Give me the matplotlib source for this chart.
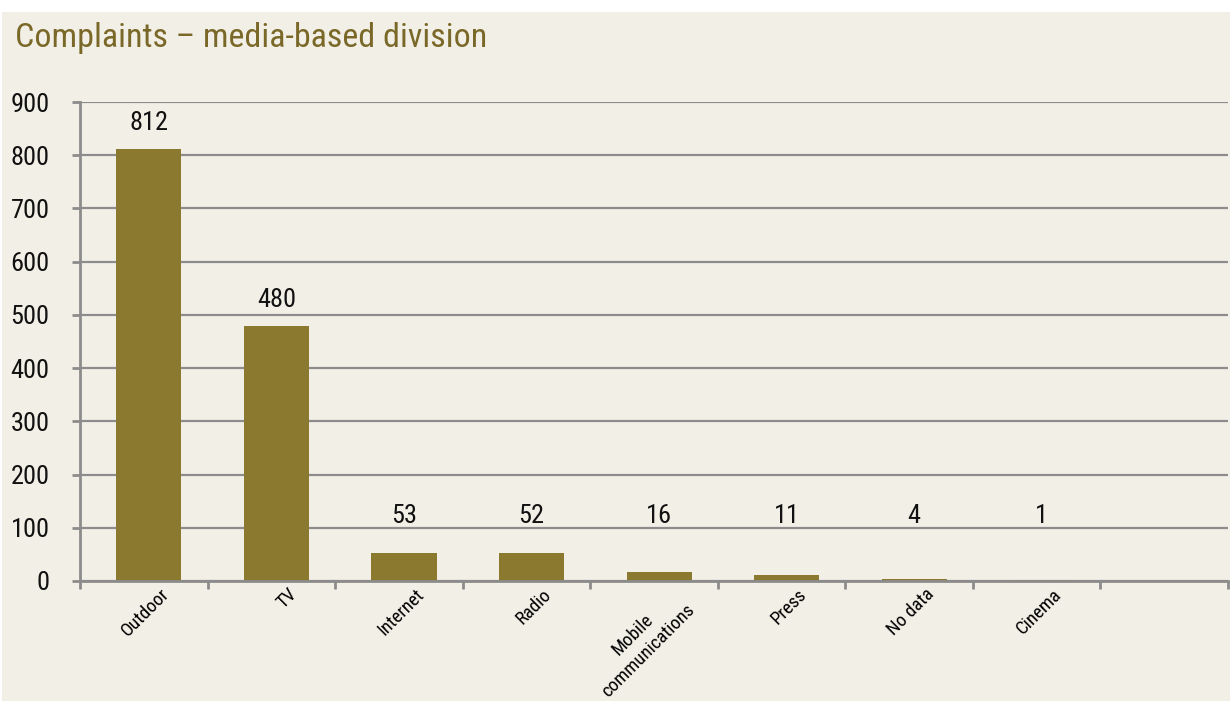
import matplotlib.pyplot as plt
import matplotlib.transforms as mtransforms
from matplotlib.patches import Rectangle

# data
categories = ["Outdoor", "TV", "Internet", "Radio", "Mobile\ncommunications",
              "Press", "No data", "Cinema"]
complaints = [812, 480, 53, 52, 16, 11, 4, 1]
y_ticks = [0, 100, 200, 300, 400, 500, 600, 700, 800, 900]

bg = "#f2efe6"
bar_color = "#8b792f"
title_color = "#7a6828"
grid_color = "#8c8c8c"

plt.rcParams["font.family"] = ["Roboto Condensed", "DejaVu Sans"]

fig = plt.figure(figsize=(12.3, 7.01), dpi=100)
fig.patch.set_facecolor("white")
fig.add_artist(Rectangle((2 / 1230, 0), 1, 1 - 12 / 701, transform=fig.transFigure,
                         facecolor=bg, edgecolor="none", zorder=-10))

ax = fig.add_axes([80 / 1230, 1 - 581 / 701, 1148 / 1230, (581 - 102) / 701])
ax.set_facecolor("none")

x = list(range(len(categories)))
ax.bar([xi + 0.04 for xi in x], complaints, width=0.51, color=bar_color, zorder=3)

# value labels
for xi, v in zip(x, complaints):
    ax.text(xi + 0.04, max(v, 75) + 48, str(v), ha="center", va="center",
            fontsize=19, color="#111111", zorder=4)

ax.set_xlim(-0.5, 8.5)
ax.set_ylim(0, 900)
ax.set_yticks(y_ticks)
ax.set_yticklabels([str(t) for t in y_ticks], fontsize=19, color="#111111")
ax.tick_params(axis="y", length=6, width=2, color=grid_color, pad=16)
ax.yaxis.grid(True, color=grid_color, linewidth=1.6, zorder=0)

# category boundaries as minor ticks, labels on majors
ax.set_xticks([i - 0.5 for i in range(10)], minor=True)
ax.set_xticks(x)
ax.set_xticklabels(categories, fontsize=13.5, rotation=45, ha="right",
                   rotation_mode="anchor", multialignment="center",
                   linespacing=1.3)
ax.tick_params(axis="x", which="major", length=0, pad=3)
ax.tick_params(axis="x", which="minor", length=6, width=2, color=grid_color)
offset = mtransforms.ScaledTranslation(16 / 100, 0, fig.dpi_scale_trans)
for lbl in ax.get_xticklabels():
    lbl.set_transform(lbl.get_transform() + offset)

for side in ["top", "right"]:
    ax.spines[side].set_visible(False)
for side in ["left", "bottom"]:
    ax.spines[side].set_color(grid_color)
    ax.spines[side].set_linewidth(2)
    ax.spines[side].set_zorder(5)

fig.text(15 / 1230, 1 - 38 / 701, "Complaints \u2013 media-based division",
         fontsize=24.5, color=title_color, va="center", ha="left")

fig.savefig("out.png", dpi=100, facecolor=fig.get_facecolor())
